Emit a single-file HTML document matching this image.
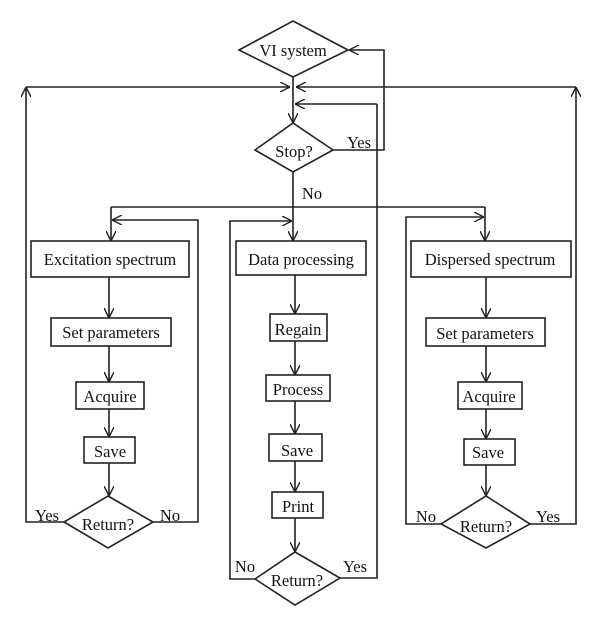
<!DOCTYPE html>
<html><head><style>html,body{margin:0;padding:0;background:#fff}svg{display:block}</style></head><body>
<svg width="600" height="634" viewBox="0 0 600 634" xmlns="http://www.w3.org/2000/svg" font-family="Liberation Serif, serif" font-size="16.5" fill="none" stroke="#222" stroke-width="1.6">
<defs><marker id="a" viewBox="0 0 10 10" refX="10" refY="5" markerWidth="10" markerHeight="10" orient="auto" markerUnits="userSpaceOnUse"><path d="M0,0 L10,5 L0,10" fill="none" stroke="#222" stroke-width="1.4"/></marker></defs>
<polygon points="293,21 348,50 293,77 239,50" fill="#fff"/>
<line x1="293" y1="77" x2="293" y2="123" marker-end="url(#a)"/>
<line x1="26" y1="87" x2="290" y2="87" marker-end="url(#a)"/>
<line x1="576" y1="87" x2="296" y2="87" marker-end="url(#a)"/>
<line x1="377" y1="104" x2="295" y2="104" marker-end="url(#a)"/>
<polygon points="293,123 333,150 293,172 255,150" fill="#fff"/>
<polyline points="333,150 384,150 384,50 349,50" marker-end="url(#a)"/>
<line x1="293" y1="172" x2="293" y2="241" marker-end="url(#a)"/>
<line x1="111" y1="207" x2="485" y2="207"/>
<line x1="111" y1="207" x2="111" y2="241" marker-end="url(#a)"/>
<line x1="485" y1="207" x2="485" y2="241" marker-end="url(#a)"/>
<rect x="31" y="241" width="158" height="36"/>
<line x1="109" y1="277" x2="109" y2="318" marker-end="url(#a)"/>
<rect x="51" y="318" width="120" height="28"/>
<line x1="109" y1="346" x2="109" y2="382" marker-end="url(#a)"/>
<rect x="76" y="382" width="68" height="27"/>
<line x1="109" y1="409" x2="109" y2="437" marker-end="url(#a)"/>
<rect x="84" y="437" width="51" height="26"/>
<line x1="109" y1="463" x2="109" y2="496" marker-end="url(#a)"/>
<polygon points="108,496 153,522 108,548 64,522" fill="#fff"/>
<polyline points="64,522 26,522 26,87" marker-end="url(#a)"/>
<polyline points="153,522 198,522 198,220 112,220" marker-end="url(#a)"/>
<rect x="236" y="241" width="130" height="34"/>
<line x1="295" y1="275" x2="295" y2="314" marker-end="url(#a)"/>
<rect x="270" y="314" width="57" height="27"/>
<line x1="295" y1="341" x2="295" y2="375" marker-end="url(#a)"/>
<rect x="266" y="375" width="64" height="26"/>
<line x1="295" y1="401" x2="295" y2="434" marker-end="url(#a)"/>
<rect x="269" y="434" width="53" height="27"/>
<line x1="295" y1="461" x2="295" y2="492" marker-end="url(#a)"/>
<rect x="272" y="492" width="51" height="26"/>
<line x1="295" y1="518" x2="295" y2="552" marker-end="url(#a)"/>
<polygon points="295,552 340,578 295,605 255,579" fill="#fff"/>
<polyline points="255,579 230,579 230,221 292,221" marker-end="url(#a)"/>
<polyline points="340,578 377,578 377,104"/>
<rect x="411" y="241" width="160" height="36"/>
<line x1="486" y1="277" x2="486" y2="318" marker-end="url(#a)"/>
<rect x="426" y="318" width="119" height="28"/>
<line x1="486" y1="346" x2="486" y2="382" marker-end="url(#a)"/>
<rect x="458" y="382" width="64" height="27"/>
<line x1="486" y1="409" x2="486" y2="439" marker-end="url(#a)"/>
<rect x="464" y="439" width="51" height="26"/>
<line x1="486" y1="465" x2="486" y2="496" marker-end="url(#a)"/>
<polygon points="486,496 530,524 486,548 441,524" fill="#fff"/>
<polyline points="441,524 406,524 406,217 484,217" marker-end="url(#a)"/>
<polyline points="530,524 576,524 576,87" marker-end="url(#a)"/>
<g fill="#111" stroke="none" text-anchor="middle">
<text x="293" y="56">VI system</text>
<text x="294" y="157">Stop?</text>
<text x="359" y="148">Yes</text>
<text x="312" y="199">No</text>
<text x="110" y="265">Excitation spectrum</text>
<text x="111" y="338">Set parameters</text>
<text x="110" y="402">Acquire</text>
<text x="110" y="457">Save</text>
<text x="108" y="530">Return?</text>
<text x="47" y="521">Yes</text>
<text x="170" y="521">No</text>
<text x="301" y="265">Data processing</text>
<text x="298" y="335">Regain</text>
<text x="298" y="395">Process</text>
<text x="297" y="456">Save</text>
<text x="298" y="512">Print</text>
<text x="297" y="586">Return?</text>
<text x="245" y="572">No</text>
<text x="355" y="572">Yes</text>
<text x="490" y="265">Dispersed spectrum</text>
<text x="485" y="339">Set parameters</text>
<text x="489" y="402">Acquire</text>
<text x="488" y="458">Save</text>
<text x="486" y="532">Return?</text>
<text x="426" y="522">No</text>
<text x="548" y="522">Yes</text>
</g>
</svg>
</body></html>
